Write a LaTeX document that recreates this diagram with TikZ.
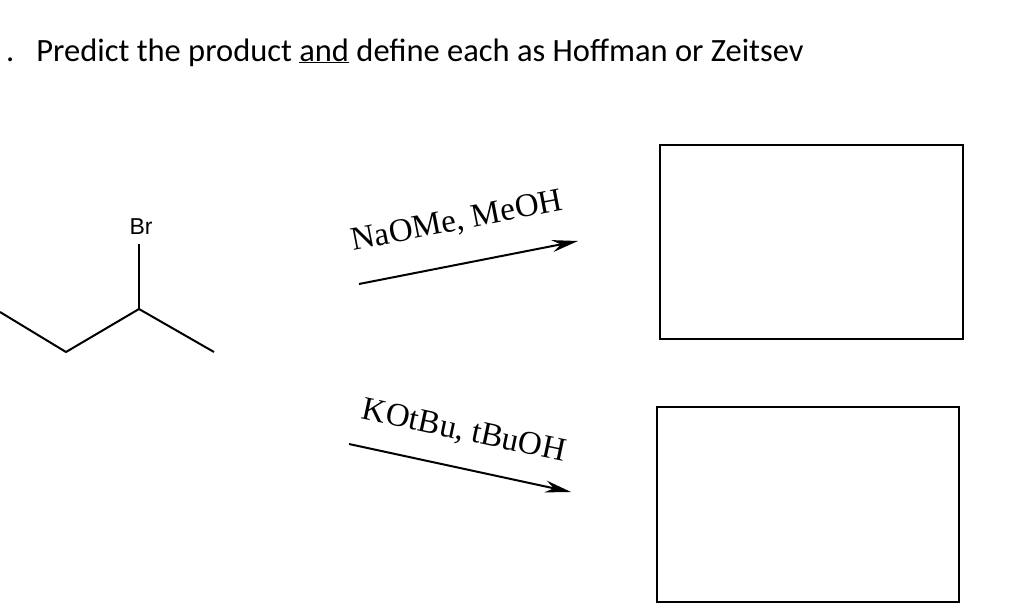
\documentclass[tikz,border=0pt]{standalone}
\usepackage{fontspec}
\setmainfont{Liberation Serif}
\newfontfamily\calfont{Carlito}
\newfontfamily\arfont{Liberation Sans}
\usetikzlibrary{arrows.meta}
\begin{document}
\begin{tikzpicture}[x=1pt,y=-1pt,
  bond/.style={line width=2pt},
  rxn/.style={line width=2pt,-{Stealth[length=26pt,width=12pt]}},
  prodbox/.style={draw,line width=2.2pt},
  reag/.style={font=\fontsize{33}{36}\selectfont,inner sep=0pt}]
\useasboundingbox (0,0) rectangle (1035,613);
\node[anchor=base west,inner sep=0pt,font=\calfont\fontsize{32.5}{36}\selectfont] (title) at (6,61) {.\hspace{22pt}Predict the product \underline{and} define each as Hoffman or Zeitsev};
\coordinate (c1) at (0,312);
\coordinate (c2) at (66,352);
\coordinate (c3) at (139,309);
\coordinate (c4) at (214,352);
\coordinate (c5) at (139,244);
\node[font=\arfont\fontsize{23}{26}\selectfont,inner sep=0pt] (br) at (141,227) {Br};
\draw[bond] (c1) -- (c2) -- (c3) -- (c4);
\draw[bond] (c3) -- (c5);
\coordinate (a1s) at (359,284);
\coordinate (a1e) at (578,241);
\coordinate (a2s) at (349,444);
\coordinate (a2e) at (571,492);
\draw[rxn] (a1s) -- (a1e);
\draw[rxn] (a2s) -- (a2e);
\node[reag,rotate=11] (r1) at (457,222) {NaOMe, MeOH};
\node[reag,rotate=-12] (r2) at (464,432) {KOtBu, tBuOH};
\node[prodbox,minimum width=303pt,minimum height=194pt,inner sep=0pt] (p1) at (811.5,242) {};
\node[prodbox,minimum width=302pt,minimum height=195pt,inner sep=0pt] (p2) at (808,504.5) {};
\end{tikzpicture}
\end{document}
